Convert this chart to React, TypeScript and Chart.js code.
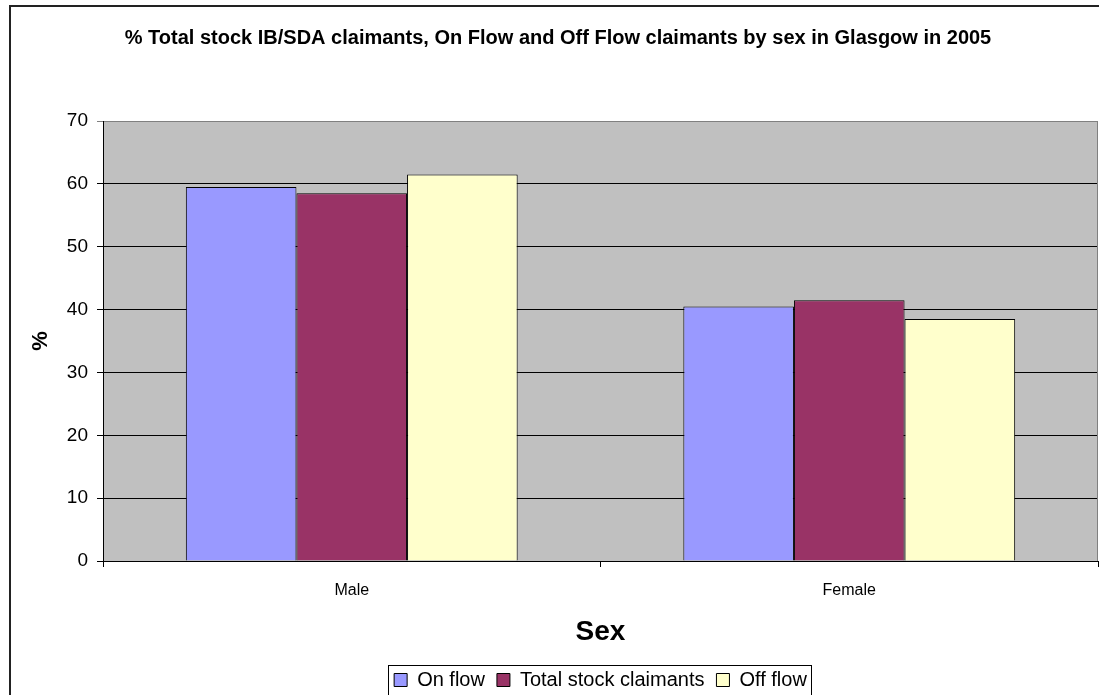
import React, { useEffect, useRef } from "react";
import { Chart, registerables } from "chart.js";

Chart.register(...registerables);

const categories = ["Male", "Female"];
const onFlow = [59.5, 40.5];
const totalStock = [58.5, 41.5];
const offFlow = [61.5, 38.5];
const seriesNames = ["On flow", "Total stock claimants", "Off flow"];
const titleText =
  "% Total stock IB/SDA claimants, On Flow and Off Flow claimants by sex in Glasgow in 2005";
const yTitle = "%";
const xTitle = "Sex";

const FONT = "'Liberation Sans', Arial, sans-serif";

const framePlugin = {
  id: "framePlugin",
  beforeDraw(chart: any) {
    const ctx = chart.ctx;
    ctx.save();
    ctx.strokeStyle = "#222";
    ctx.lineWidth = 2;
    ctx.strokeRect(10, 6, 1200, 1200);
    const a = chart.chartArea;
    ctx.fillStyle = "#C0C0C0";
    ctx.fillRect(a.left, a.top, a.right - a.left, a.bottom - a.top);
    ctx.restore();
  },
  beforeDatasetsDraw(chart: any) {
    const ctx = chart.ctx;
    const a = chart.chartArea;
    ctx.save();
    ctx.strokeStyle = "#808080";
    ctx.lineWidth = 1;
    ctx.beginPath();
    ctx.moveTo(a.left + 1, a.top + 0.5);
    ctx.lineTo(a.right - 0.5, a.top + 0.5);
    ctx.lineTo(a.right - 0.5, a.bottom);
    ctx.stroke();
    ctx.restore();
  },
  afterDraw(chart: any) {
    const lg = chart.legend;
    if (!lg || !lg.legendHitBoxes || !lg.legendHitBoxes.length) return;
    const boxes = lg.legendHitBoxes;
    let l = Infinity, r = -Infinity, t = Infinity;
    boxes.forEach((b: any) => {
      l = Math.min(l, b.left);
      r = Math.max(r, b.left + b.width);
      t = Math.min(t, b.top);
    });
    const ctx = chart.ctx;
    ctx.save();
    ctx.strokeStyle = "#000";
    ctx.lineWidth = 1;
    ctx.strokeRect(Math.round(l - 6) + 0.5, Math.round(t - 5) + 0.5, Math.round(r - l + 10), 40);
    ctx.restore();
  },
};

export default function App() {
  const ref = useRef<HTMLCanvasElement | null>(null);
  useEffect(() => {
    if (!ref.current) return;
    const chart = new Chart(ref.current, {
      type: "bar",
      data: {
        labels: categories,
        datasets: [
          { label: seriesNames[0], data: onFlow, backgroundColor: "#9999FF", borderColor: "#000", borderWidth: 1 },
          { label: seriesNames[1], data: totalStock, backgroundColor: "#993366", borderColor: "#000", borderWidth: 1 },
          { label: seriesNames[2], data: offFlow, backgroundColor: "#FFFFCC", borderColor: "#000", borderWidth: 1 },
        ],
      },
      options: {
        responsive: false,
        animation: false,
        devicePixelRatio: 1,
        layout: { padding: { left: 18, right: 1, top: 0, bottom: -5 } },
        datasets: { bar: { categoryPercentage: 0.667, barPercentage: 1.0 } },
        plugins: {
          title: {
            display: true,
            text: titleText,
            color: "#000",
            font: { family: FONT, size: 20, weight: "bold" },
            padding: { top: 26, bottom: 71 },
          },
          legend: {
            display: true,
            position: "bottom",
            fullSize: false,
            labels: {
              color: "#000",
              font: { family: FONT, size: 20 },
              boxWidth: 13,
              boxHeight: 13,
              padding: 12,
            },
          },
          tooltip: { enabled: false },
        },
        scales: {
          x: {
            grid: { display: true, drawOnChartArea: false, drawTicks: true, tickLength: 6, color: "#000", offset: true },
            border: { display: true, color: "#000", width: 1 },
            ticks: { color: "#000", font: { family: FONT, size: 16 }, padding: 14 },
            title: {
              display: true,
              text: xTitle,
              color: "#000",
              font: { family: FONT, size: 28, weight: "bold" },
              padding: { top: 0, bottom: 9 },
            },
            afterFit: (s: any) => { s.height = 97; },
          },
          y: {
            min: 0,
            max: 70,
            ticks: { stepSize: 10, color: "#000", font: { family: FONT, size: 19 }, padding: 9 },
            grid: {
              color: (c: any) => (c.tick && c.tick.value === 70 ? "#808080" : "#000"),
              lineWidth: 1,
              tickLength: 6,
              drawTicks: true,
            },
            border: { display: true, color: "#000", width: 1 },
            title: {
              display: true,
              text: yTitle,
              color: "#000",
              font: { family: FONT, size: 22, weight: "bold" },
              padding: { top: 10, bottom: 0 },
            },
            afterFit: (s: any) => { s.width = 85; },
          },
        },
      },
      plugins: [framePlugin],
    } as any);
    return () => chart.destroy();
  }, []);
  return (
    <div style={{ position: "absolute", left: 0, top: 0, width: 1099, height: 695, background: "#fff" }}>
      <canvas ref={ref} width={1099} height={695} style={{ width: 1099, height: 695, display: "block" }} />
    </div>
  );
}
